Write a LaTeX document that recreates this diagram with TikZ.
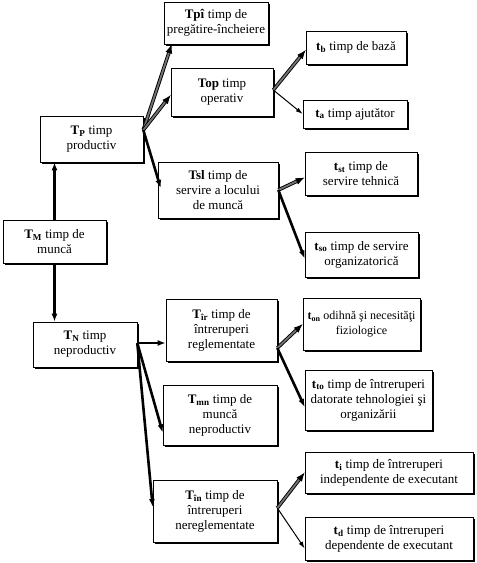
\documentclass[tikz,border=0pt]{standalone}
\usepackage{fontspec}
\setmainfont{Liberation Serif}
\usetikzlibrary{arrows.meta,shadows}

\newcommand{\tsub}[2]{\textbf{#1}\textsubscript{\textbf{#2}}}

\tikzset{
  box/.style={draw, fill=white, align=center, inner sep=2pt, line width=0.6pt,
    drop shadow={shadow xshift=1.6pt, shadow yshift=-1.6pt, opacity=1, fill=black}},
  heavy/.style={line width=2.6pt, -{Latex[length=8pt,width=6pt]}},
  hollow/.style={draw=black, double=black!55, double distance=1.8pt, line width=0.9pt,
    -{Latex[length=9pt,width=7pt]}},
  slim/.style={line width=1pt, -{Latex[length=7pt,width=4.5pt]}},
}

\begin{document}
\begin{tikzpicture}[x=1pt,y=-1pt,font=\fontsize{13}{15}\selectfont]
  \useasboundingbox (0,0) rectangle (477,563);

  % main branches
  \node[box, minimum width=103pt, minimum height=43pt] (tm) at (54.5,241.5) {\tsub{T}{M} timp de\\muncă};
  \node[box, minimum width=103pt, minimum height=46pt] (tp) at (91.5,139) {\tsub{T}{P} timp\\productiv};
  \node[box, minimum width=104pt, minimum height=45pt] (tn) at (85,344.5) {\tsub{T}{N} timp\\neproductiv};

  % productive time
  \node[box, minimum width=104pt, minimum height=42pt] (tpi) at (216,23) {\textbf{Tpî} timp de\\pregătire-încheiere};
  \node[box, minimum width=102pt, minimum height=48pt] (top) at (222,92) {\textbf{Top} timp\\operativ};
  \node[box, minimum width=120pt, minimum height=56pt] (tsl) at (218,190) {\textbf{Tsl} timp de\\servire a locului\\de muncă};
  \node[box, minimum width=100pt, minimum height=33pt] (tb) at (356,47.5) {\tsub{t}{b} timp de bază};
  \node[box, minimum width=104pt, minimum height=28pt] (ta) at (355,114) {\tsub{t}{a} timp ajutător};
  \node[box, minimum width=112pt, minimum height=43pt] (tst) at (361,173.5) {\tsub{t}{st} timp de\\servire tehnică};
  \node[box, minimum width=113pt, minimum height=45pt] (tso) at (361.5,254.5) {\tsub{t}{so} timp de servire\\organizatorică};

  % non-productive time
  \node[box, minimum width=111pt, minimum height=62pt] (tir) at (221.5,330) {\tsub{T}{îr} timp de\\întreruperi\\reglementate};
  \node[box, minimum width=114pt, minimum height=60pt] (tmn) at (220,415.5) {\tsub{T}{mn} timp de\\muncă\\neproductiv};
  \node[box, minimum width=124pt, minimum height=62pt] (tin) at (215,511) {\tsub{T}{în} timp de\\întreruperi\\nereglementate};
  \node[box, minimum width=117pt, minimum height=52pt, font=\fontsize{12}{15}\selectfont] (ton) at (361.5,324) {\tsub{t}{on} odihnă şi necesităţi\\fiziologice};
  \node[box, minimum width=127pt, minimum height=60pt] (tto) at (368.5,400) {\tsub{t}{to} timp de întreruperi\\datorate tehnologiei şi\\organizării};
  \node[box, minimum width=168pt, minimum height=41pt] (ti) at (389,472.5) {\tsub{t}{i} timp de întreruperi\\independente de executant};
  \node[box, minimum width=168pt, minimum height=43pt] (td) at (389,538.5) {\tsub{t}{d} timp de întreruperi\\dependente de executant};

  % branching points
  \coordinate (tpo) at ([yshift=9pt]tp.east);
  \coordinate (topo) at ([yshift=2pt]top.east);
  \coordinate (tslo) at (tsl.east);
  \coordinate (tno) at ([yshift=1.5pt]tn.east);
  \coordinate (tiro) at ([yshift=-18pt]tir.east);
  \coordinate (tino) at ([yshift=3pt]tin.east);

  \draw[heavy] (tm.north) -- (tm.north |- tp.south);
  \draw[heavy] (tm.south) -- (tm.south |- tn.north);

  \draw[hollow] (tpo) -- ([xshift=8pt]tpi.south west);
  \draw[hollow] (tpo) -- ([yshift=-3pt]top.west);
  \draw[heavy] (tpo) -- ([xshift=3pt,yshift=2pt]tsl.west);
  \draw[hollow] (topo) -- ([yshift=-2.5pt]tb.west);
  \draw[slim] (topo) -- (ta.west);
  \draw[hollow] (tslo) -- ([yshift=-4pt]tst.west);
  \draw[heavy] (tslo) -- ([yshift=-4pt]tso.west);

  \draw[heavy] (tno) -- (tno -| tir.west);
  \draw[heavy] (tno) -- ([yshift=-17pt]tmn.west);
  \draw[heavy] (tno) -- ([yshift=4pt]tin.west);
  \draw[hollow] (tiro) -- (ton.west);
  \draw[heavy] (tiro) -- ([yshift=-7pt]tto.west);
  \draw[hollow] (tino) -- (ti.west);
  \draw[slim] (tino) -- ([yshift=-10pt]td.west);
\end{tikzpicture}
\end{document}
